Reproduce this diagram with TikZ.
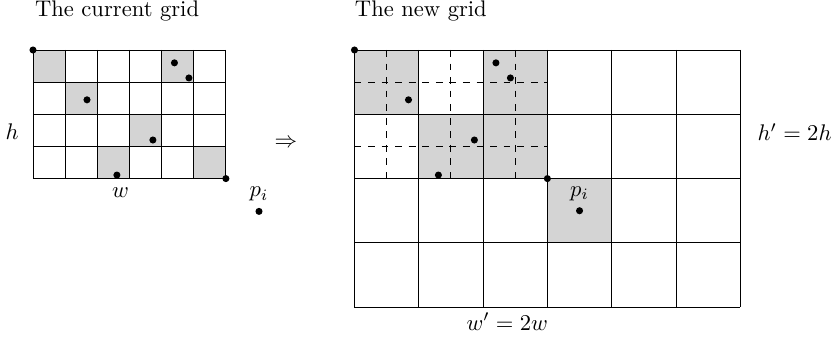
\documentclass[tikz,border=0pt]{standalone}
\begin{document}
\begin{tikzpicture}[x=0.5cm,y=-0.5cm,
  gridline/.style={line width=0.4pt},
  shade/.style={fill=black!17},
  dot/.style={circle,fill=black,inner sep=0pt,minimum size=0.11cm},
  lbl/.style={inner sep=0pt},
  subline/.style={dashed,line width=0.4pt}]
\useasboundingbox (-1.026,-1.555) rectangle (24.977,9.145);
% titles
\node[lbl,anchor=base west] (t1) at (0.05,-1.03) {The current grid};
\node[lbl,anchor=base west] (t2) at (10.0,-1.03) {The new grid};
% ---- left grid ----
\foreach \c/\r in {0/0,4/0,1/1,3/2,2/3,5/3}
  \fill[shade] (\c,\r) rectangle ++(1,1);
\foreach \x in {0,...,6}
  \draw[gridline] (\x,0) -- (\x,4);
\foreach \y in {0,...,4}
  \draw[gridline] (0,\y) -- (6,\y);
\node[dot] (lc1) at (0,0) {};
\node[dot] (lc2) at (6,4) {};
\node[dot] (l1) at (4.4,0.4) {};
\node[dot] (l2) at (4.85,0.87) {};
\node[dot] (l3) at (1.68,1.55) {};
\node[dot] (l4) at (3.73,2.8) {};
\node[dot] (l5) at (2.61,3.89) {};
\node[lbl] (h) at (-0.65,2.55) {$h$};
\node[lbl] (w) at (2.72,4.45) {$w$};
\node[dot] (pl) at (7.03,5.02) {};
\node[lbl,anchor=south] (plt) at (7.03,4.72) {$p_i$};
\node[lbl] (arr) at (7.87,2.9) {$\Rightarrow$};
% ---- right grid ----
\foreach \c/\r in {10/0,14/0,12/2,14/2,16/4}
  \fill[shade] (\c,\r) rectangle ++(2,2);
\foreach \x in {10,12,...,22}
  \draw[gridline] (\x,0) -- (\x,8);
\foreach \y in {0,2,...,8}
  \draw[gridline] (10,\y) -- (22,\y);
\foreach \x in {11,13,15}
  \draw[subline] (\x,0) -- (\x,4);
\foreach \y in {1,3}
  \draw[subline] (10,\y) -- (16,\y);
\node[dot] (rc1) at (10,0) {};
\node[dot] (rc2) at (16,4) {};
\node[dot] (r1) at (14.4,0.4) {};
\node[dot] (r2) at (14.85,0.87) {};
\node[dot] (r3) at (11.68,1.55) {};
\node[dot] (r4) at (13.73,2.8) {};
\node[dot] (r5) at (12.61,3.89) {};
\node[dot] (pr) at (17.0,5.0) {};
\node[lbl,anchor=south] (prt) at (17.0,4.7) {$p_i$};
\node[lbl] (h2) at (23.69,2.55) {$h'=2h$};
\node[lbl] (w2) at (14.75,8.45) {$w'=2w$};
\end{tikzpicture}
\end{document}
